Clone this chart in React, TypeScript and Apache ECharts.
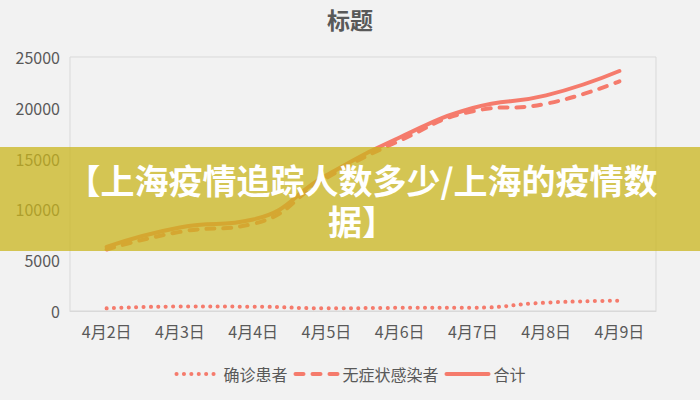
import React, { useEffect, useRef } from "react";
import * as echarts from "echarts";

const categories = ["4月2日", "4月3日", "4月4日", "4月5日", "4月6日", "4月7日", "4月8日", "4月9日"];
const confirmed = [260, 438, 425, 268, 311, 322, 824, 1015];
const asymptomatic = [6051, 7788, 8581, 13086, 16766, 19660, 20398, 22609];
const total = [6311, 8226, 9006, 13354, 17077, 19982, 21222, 23624];
const seriesNames = ["确诊患者", "无症状感染者", "合计"];
const titleText = "标题";
const bannerLines = ["【上海疫情追踪人数多少/上海的疫情数", "据】"];

const LINE = "#F57B6C";
const FONT = "'Noto Sans CJK SC', 'Microsoft YaHei', sans-serif";

export default function App() {
  const ref = useRef<HTMLDivElement>(null);
  useEffect(() => {
    if (!ref.current) return;
    const chart = echarts.init(ref.current, undefined, { renderer: "svg" });
    chart.setOption({
      animation: false,
      backgroundColor: "#F2F2F2",
      textStyle: { fontFamily: FONT },
      title: {
        text: titleText,
        left: "center",
        top: 2,
        textStyle: { fontSize: 23, fontWeight: "bold", color: "#595959", fontFamily: FONT },
      },
      grid: {
        left: 70,
        right: 44,
        top: 57,
        bottom: 89,
        show: true,
        borderColor: "#D9D9D9",
        borderWidth: 1,
        backgroundColor: "transparent",
      },
      legend: {
        bottom: 13,
        left: "center",
        itemWidth: 42,
        itemHeight: 12,
        itemGap: 6,
        itemStyle: { opacity: 0 },
        lineStyle: { width: 4 },
        textStyle: { fontSize: 16, color: "#595959", fontFamily: FONT },
        data: seriesNames,
      },
      xAxis: {
        type: "category",
        data: categories,
        boundaryGap: true,
        axisLine: { lineStyle: { color: "#D9D9D9" } },
        axisTick: { show: false },
        axisLabel: { fontSize: 16, color: "#595959", margin: 12, fontFamily: FONT },
      },
      yAxis: {
        type: "value",
        min: 0,
        max: 25000,
        interval: 5000,
        splitLine: { show: false },
        axisLine: { show: false },
        axisTick: { show: false },
        axisLabel: {
          fontSize: 16,
          color: "#595959",
          margin: 10,
          fontFamily: FONT,
          formatter: (v: number) => String(v),
        },
      },
      series: [
        {
          name: seriesNames[0],
          type: "line",
          data: confirmed,
          smooth: true,
          symbol: "none",
          color: LINE,
          lineStyle: { color: LINE, width: 4, type: [0.1, 7.3], cap: "round" },
        },
        {
          name: seriesNames[1],
          type: "line",
          data: asymptomatic,
          smooth: true,
          symbol: "none",
          color: LINE,
          lineStyle: { color: LINE, width: 4, type: [8, 9], cap: "round" },
        },
        {
          name: seriesNames[2],
          type: "line",
          data: total,
          smooth: true,
          symbol: "none",
          color: LINE,
          lineStyle: { color: LINE, width: 4, cap: "round" },
        },
      ],
      graphic: [
        {
          type: "rect",
          left: 0,
          top: 147,
          z: 100,
          shape: { width: 700, height: 104 },
          style: { fill: "rgba(202,181,29,0.75)" },
        },
        {
          type: "text",
          x: 362,
          y: 199.5,
          z: 101,
          style: {
            text: bannerLines.join("\n"),
            fill: "#FFFFFF",
            fontSize: 34,
            lineHeight: 41,
            align: "center",
            verticalAlign: "middle",
            fontWeight: "bold",
            fontFamily: FONT,
          },
        },
      ],
    });
    return () => chart.dispose();
  }, []);
  return (
    <div
      ref={ref}
      style={{ position: "fixed", left: 0, top: 0, width: 700, height: 400 }}
    />
  );
}
